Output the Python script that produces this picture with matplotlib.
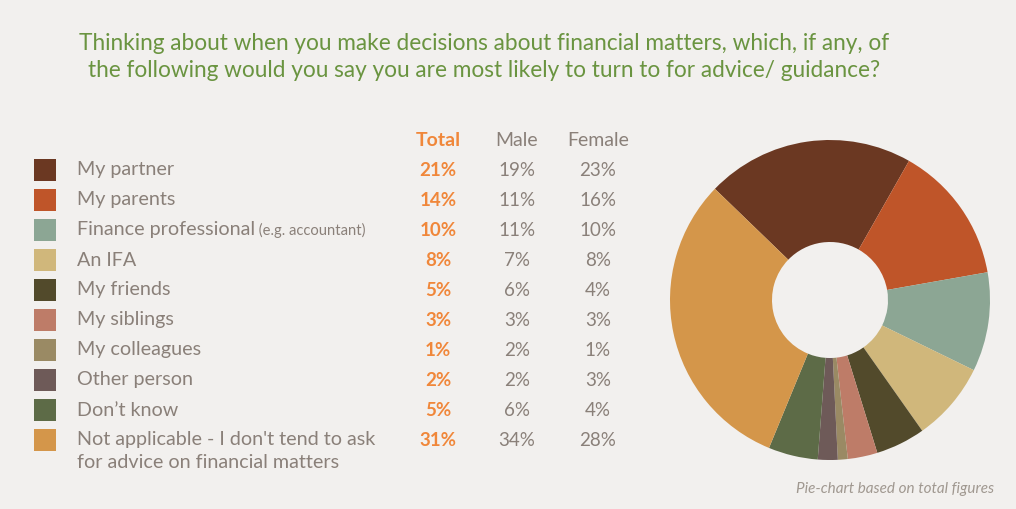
import matplotlib
matplotlib.use("Agg")
import matplotlib.pyplot as plt
from matplotlib.patches import Rectangle

# Survey responses: share of people turning to each source for financial advice
categories = [
    "My partner",
    "My parents",
    "Finance professional",
    "An IFA",
    "My friends",
    "My siblings",
    "My colleagues",
    "Other person",
    "Don\u2019t know",
    "Not applicable - I don't tend to ask\nfor advice on financial matters",
]
total = [21, 14, 10, 8, 5, 3, 1, 2, 5, 31]
male = [19, 11, 11, 7, 6, 3, 2, 2, 6, 34]
female = [23, 16, 10, 8, 4, 3, 1, 3, 4, 28]
colors = ["#6b3822", "#bf5529", "#8ca694", "#d0b77b", "#524a2b",
          "#be7c68", "#9a8a64", "#6e5a58", "#5d6b47", "#d4964a"]

title = ("Thinking about when you make decisions about financial matters, which, if any, of\n"
         "the following would you say you are most likely to turn to for advice/ guidance?")
footnote = "Pie-chart based on total figures"

BG = "#f2f0ee"
TXT = "#8a8079"
ORANGE = "#f0873a"
GREEN = "#6a9440"
FONT = "Lato"
LABEL_FS = 14.2
NUM_FS = 13.5

W, H = 1016, 509
fig = plt.figure(figsize=(W / 100, H / 100), dpi=100, facecolor=BG)

# Overlay axes in pixel coordinates for the table part
ax = fig.add_axes([0, 0, 1, 1])
ax.set_xlim(0, W)
ax.set_ylim(H, 0)
ax.axis("off")

ax.text(484, 57, title, ha="center", va="center", color=GREEN,
        fontsize=16.3, family=FONT, linespacing=1.35)

# Column headers
col_x = [438, 517, 598]
ax.text(col_x[0], 140, "Total", ha="center", va="center", color=ORANGE,
        fontsize=14, family=FONT, fontweight="bold")
ax.text(col_x[1], 140, "Male", ha="center", va="center", color=TXT,
        fontsize=14, family=FONT)
ax.text(col_x[2], 140, "Female", ha="center", va="center", color=TXT,
        fontsize=14, family=FONT)

row0, step = 170, 30
for i, cat in enumerate(categories):
    y = row0 + i * step
    ax.add_patch(Rectangle((34, y - 11), 22, 22, facecolor=colors[i], edgecolor="none"))
    if "\n" in cat:
        first, second = cat.split("\n")
        ax.text(77, y, first, ha="left", va="center", color=TXT, fontsize=LABEL_FS, family=FONT)
        ax.text(77, y + 23, second, ha="left", va="center", color=TXT, fontsize=LABEL_FS, family=FONT)
    else:
        t = ax.text(77, y, cat, ha="left", va="center", color=TXT, fontsize=LABEL_FS, family=FONT)
        if cat == "Finance professional":
            ax.annotate(" (e.g. accountant)", xycoords=t, xy=(1, 0.45), va="center",
                        ha="left", color=TXT, fontsize=10.6, family=FONT)
    ax.text(col_x[0], y, f"{total[i]}%", ha="center", va="center", color=ORANGE,
            fontsize=NUM_FS, family=FONT, fontweight="bold")
    ax.text(col_x[1], y, f"{male[i]}%", ha="center", va="center", color=TXT,
            fontsize=NUM_FS, family=FONT)
    ax.text(col_x[2], y, f"{female[i]}%", ha="center", va="center", color=TXT,
            fontsize=NUM_FS, family=FONT)

ax.text(994, 489, footnote, ha="right", va="center", color="#a09890",
        fontsize=11, family=FONT, style="italic")

# Donut chart of total figures
cx, cy, r = 830, 300, 160
pax = fig.add_axes([(cx - r) / W, (H - cy - r) / H, 2 * r / W, 2 * r / H])
pax.pie(total, colors=colors, startangle=136, counterclock=False,
        wedgeprops=dict(width=(r - 58) / r, linewidth=0), radius=1)
pax.set_xlim(-1, 1)
pax.set_ylim(-1, 1)
pax.set_aspect("equal")
pax.axis("off")

fig.savefig("out.png", dpi=100, facecolor=BG)
